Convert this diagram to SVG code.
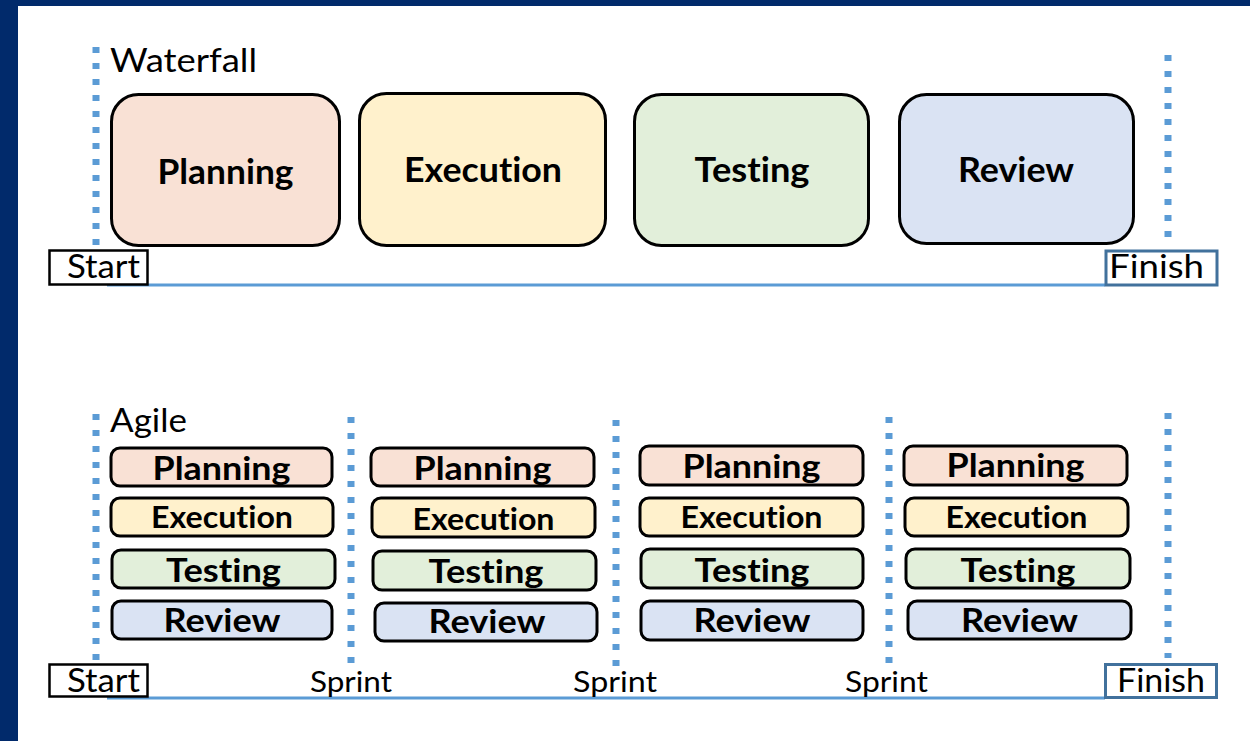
<svg xmlns="http://www.w3.org/2000/svg" width="1250" height="741" viewBox="0 0 1250 741">
<style>
text{font-family:Lato,"Open Sans","Liberation Sans",sans-serif;fill:#000;font-variant-ligatures:none;font-feature-settings:"liga" 0,"dlig" 0}
.lbl{font-size:32px;font-weight:400}
.spr{font-size:28px;font-weight:400}
.big{font-size:34px;font-weight:700;text-anchor:middle}
.sm{font-size:33px;font-weight:700;text-anchor:middle}
.smx{font-size:30px;font-weight:700;text-anchor:middle}
.wf{stroke:#000;stroke-width:3}
.ag{stroke:#000;stroke-width:3}
.p{fill:#F9E1D5}.e{fill:#FFF1CC}.t{fill:#E2EFDA}.r{fill:#DAE3F3}
.dot{stroke:#5B9BD5;stroke-width:7;stroke-dasharray:6 10;fill:none}
.axis{stroke:#5B9BD5;stroke-width:3;fill:none}
.sb{fill:#fff;stroke:#000;stroke-width:2.5}
.fb{fill:#fff;stroke:#41719C;stroke-width:3}
</style>
<rect x="0" y="0" width="1250" height="741" fill="#fff"/>
<rect x="0" y="0" width="1250" height="6" fill="#012A6B"/>
<rect x="0" y="0" width="18" height="741" fill="#012A6B"/>

<g id="connectors">
  <line class="dot" x1="96" y1="47" x2="96" y2="248"/>
  <line class="dot" x1="1168" y1="55" x2="1168" y2="238"/>
  <line class="axis" x1="107" y1="285" x2="1105" y2="285"/>
  <line class="dot" x1="96" y1="414" x2="96" y2="664"/>
  <line class="dot" x1="351" y1="417" x2="351" y2="664"/>
  <line class="dot" x1="616" y1="420" x2="616" y2="667"/>
  <line class="dot" x1="889" y1="417" x2="889" y2="665"/>
  <line class="dot" x1="1168" y1="413" x2="1168" y2="658"/>
  <line class="axis" x1="107" y1="698" x2="1105" y2="698"/>
</g>

<g id="waterfall-title"><text class="lbl" x="110" y="72" textLength="147" lengthAdjust="spacingAndGlyphs">Waterfall</text></g>

<g id="wf-planning"><rect class="wf p" x="111.5" y="94.5" width="228" height="151" rx="27"/><text class="big" x="225.5" y="184" textLength="136" lengthAdjust="spacingAndGlyphs">Planning</text></g>
<g id="wf-execution"><rect class="wf e" x="359.5" y="93.5" width="246" height="152" rx="27"/><text class="big" x="483" y="182" textLength="158" lengthAdjust="spacingAndGlyphs">Execution</text></g>
<g id="wf-testing"><rect class="wf t" x="634.5" y="94.5" width="234" height="151" rx="27"/><text class="big" x="752" y="182" textLength="115" lengthAdjust="spacingAndGlyphs">Testing</text></g>
<g id="wf-review"><rect class="wf r" x="899.5" y="94.5" width="234" height="149" rx="27"/><text class="big" x="1016" y="182" textLength="116" lengthAdjust="spacingAndGlyphs">Review</text></g>

<g id="wf-start"><rect class="sb" x="49.5" y="250.5" width="98" height="34"/><text class="lbl" x="67" y="278" textLength="73" lengthAdjust="spacingAndGlyphs">Start</text></g>
<g id="wf-finish"><rect class="fb" x="1106" y="251" width="111" height="34"/><text class="lbl" x="1109" y="278" textLength="95" lengthAdjust="spacingAndGlyphs">Finish</text></g>

<g id="agile-title"><text class="lbl" x="110" y="432" textLength="77" lengthAdjust="spacingAndGlyphs">Agile</text></g>

<g id="ag1-planning"><rect class="ag p" x="111" y="448" width="221" height="38" rx="9"/><text class="sm" x="221.5" y="480" textLength="138" lengthAdjust="spacingAndGlyphs">Planning</text></g>
<g id="ag1-execution"><rect class="ag e" x="111" y="498" width="222" height="38" rx="9"/><text class="smx" x="222" y="528" textLength="142" lengthAdjust="spacingAndGlyphs">Execution</text></g>
<g id="ag1-testing"><rect class="ag t" x="112" y="550" width="223" height="38" rx="9"/><text class="sm" x="223.5" y="582" textLength="115" lengthAdjust="spacingAndGlyphs">Testing</text></g>
<g id="ag1-review"><rect class="ag r" x="112" y="601" width="220" height="38" rx="9"/><text class="sm" x="222" y="632" textLength="117" lengthAdjust="spacingAndGlyphs">Review</text></g>

<g id="ag2-planning"><rect class="ag p" x="371" y="448" width="223" height="38" rx="9"/><text class="sm" x="482.5" y="480" textLength="138" lengthAdjust="spacingAndGlyphs">Planning</text></g>
<g id="ag2-execution"><rect class="ag e" x="372" y="498" width="223" height="39" rx="9"/><text class="smx" x="483.5" y="530" textLength="142" lengthAdjust="spacingAndGlyphs">Execution</text></g>
<g id="ag2-testing"><rect class="ag t" x="373" y="551" width="223" height="39" rx="9"/><text class="sm" x="486" y="583" textLength="115" lengthAdjust="spacingAndGlyphs">Testing</text></g>
<g id="ag2-review"><rect class="ag r" x="375" y="603" width="222" height="38" rx="9"/><text class="sm" x="487" y="633" textLength="117" lengthAdjust="spacingAndGlyphs">Review</text></g>

<g id="ag3-planning"><rect class="ag p" x="640" y="446" width="223" height="39" rx="9"/><text class="sm" x="751.5" y="478" textLength="138" lengthAdjust="spacingAndGlyphs">Planning</text></g>
<g id="ag3-execution"><rect class="ag e" x="640" y="498" width="223" height="38" rx="9"/><text class="smx" x="751.5" y="528" textLength="142" lengthAdjust="spacingAndGlyphs">Execution</text></g>
<g id="ag3-testing"><rect class="ag t" x="641" y="549" width="222" height="39" rx="9"/><text class="sm" x="752" y="582" textLength="115" lengthAdjust="spacingAndGlyphs">Testing</text></g>
<g id="ag3-review"><rect class="ag r" x="641" y="601" width="222" height="39" rx="9"/><text class="sm" x="752" y="632" textLength="117" lengthAdjust="spacingAndGlyphs">Review</text></g>

<g id="ag4-planning"><rect class="ag p" x="904" y="446" width="223" height="39" rx="9"/><text class="sm" x="1015.5" y="477" textLength="138" lengthAdjust="spacingAndGlyphs">Planning</text></g>
<g id="ag4-execution"><rect class="ag e" x="905" y="498" width="223" height="38" rx="9"/><text class="smx" x="1016.5" y="528" textLength="142" lengthAdjust="spacingAndGlyphs">Execution</text></g>
<g id="ag4-testing"><rect class="ag t" x="906" y="549" width="224" height="39" rx="9"/><text class="sm" x="1018" y="582" textLength="115" lengthAdjust="spacingAndGlyphs">Testing</text></g>
<g id="ag4-review"><rect class="ag r" x="908" y="601" width="223" height="38" rx="9"/><text class="sm" x="1019.5" y="632" textLength="117" lengthAdjust="spacingAndGlyphs">Review</text></g>

<g id="ag-start"><rect class="sb" x="49.5" y="664.5" width="98" height="32"/><text class="lbl" x="67" y="692" textLength="73" lengthAdjust="spacingAndGlyphs">Start</text></g>
<g id="sprint1"><text class="spr" x="310" y="692" textLength="82" lengthAdjust="spacingAndGlyphs">Sprint</text></g>
<g id="sprint2"><text class="spr" x="573" y="692" textLength="84" lengthAdjust="spacingAndGlyphs">Sprint</text></g>
<g id="sprint3"><text class="spr" x="845" y="692" textLength="83" lengthAdjust="spacingAndGlyphs">Sprint</text></g>
<g id="ag-finish"><rect class="fb" x="1105.5" y="664.5" width="111" height="33"/><text class="lbl" x="1117" y="692" textLength="88" lengthAdjust="spacingAndGlyphs">Finish</text></g>
</svg>
